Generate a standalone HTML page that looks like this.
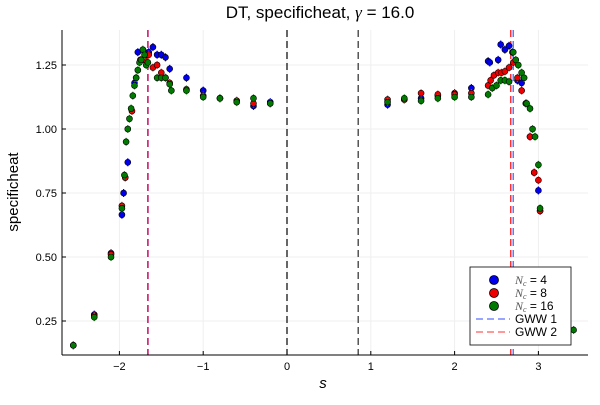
<!DOCTYPE html>
<html><head><meta charset="utf-8"><style>
body{margin:0;background:#fff;font-family:"Liberation Sans","DejaVu Sans",sans-serif}
svg text{font-family:"Liberation Sans","DejaVu Sans",sans-serif}
</style></head><body>
<svg id="chart" width="600" height="400" viewBox="0 0 600 400">
<rect width="600" height="400" fill="#fff"/>
<g id="grid"></g><g id="vlines"></g><g id="marks"></g><g id="axes"></g>
<text x="320" y="18" font-size="17" text-anchor="middle">DT, specificheat, <tspan font-family="Liberation Serif" font-style="italic">γ</tspan> = 16.0</text>
<text x="18" y="192" font-size="15" text-anchor="middle" transform="rotate(-90 18 192)">specificheat</text>
<text x="323" y="388" font-size="15" font-style="italic" font-family="Liberation Serif" text-anchor="middle">s</text>
<g id="legend"></g>
</svg>
<script>
const xTicks=[-2,-1,0,1,2,3];
const xTickLabels=["−2","−1","0","1","2","3"];
const yTicks=[0.25,0.5,0.75,1.0,1.25];
const yTickLabels=["0.25","0.50","0.75","1.00","1.25"];
const s4=[-2.55,-2.3,-2.1,-1.97,-1.95,-1.9,-1.82,-1.78,-1.7,-1.65,-1.6,-1.55,-1.5,-1.45,-1.4,-1.2,-1.0,-0.8,-0.6,-0.4,-0.2,1.2,1.4,1.6,1.8,2.0,2.2,2.4,2.42,2.52,2.55,2.6,2.65,2.69,2.75,2.8,2.85,2.9,2.95,3.0,3.02];
const c4=[0.155,0.275,0.515,0.665,0.75,0.87,1.18,1.3,1.3,1.30,1.32,1.29,1.29,1.28,1.235,1.2,1.15,1.12,1.11,1.09,1.105,1.095,1.115,1.12,1.13,1.14,1.16,1.265,1.26,1.27,1.33,1.31,1.325,1.30,1.19,1.18,1.10,0.97,0.83,0.76,0.68];
const s8=[-2.55,-2.3,-2.1,-1.97,-1.93,-1.85,-1.8,-1.75,-1.7,-1.65,-1.6,-1.55,-1.5,-1.45,-1.4,-1.2,-1.0,-0.8,-0.6,-0.4,-0.2,1.2,1.4,1.6,1.8,2.0,2.2,2.4,2.43,2.47,2.52,2.56,2.6,2.65,2.7,2.75,2.8,2.85,2.9,2.95,3.0,3.02];
const c8=[0.155,0.27,0.51,0.70,0.81,1.07,1.2,1.27,1.27,1.29,1.24,1.25,1.22,1.2,1.18,1.155,1.13,1.12,1.11,1.10,1.10,1.115,1.115,1.14,1.135,1.135,1.14,1.17,1.19,1.21,1.22,1.22,1.225,1.24,1.26,1.20,1.15,1.10,0.97,0.83,0.80,0.68];
const s16=[-2.55,-2.3,-2.1,-1.97,-1.94,-1.92,-1.9,-1.88,-1.86,-1.84,-1.82,-1.8,-1.78,-1.76,-1.74,-1.72,-1.7,-1.68,-1.66,-1.55,-1.5,-1.45,-1.4,-1.38,-1.2,-1.0,-0.8,-0.6,-0.4,-0.2,1.2,1.4,1.6,1.8,2.0,2.2,2.4,2.45,2.5,2.55,2.6,2.65,2.7,2.73,2.76,2.8,2.83,2.86,2.9,2.93,2.96,3.0,3.02,3.42];
const c16=[0.155,0.265,0.50,0.69,0.82,0.95,1.0,1.04,1.08,1.13,1.17,1.2,1.23,1.26,1.27,1.31,1.29,1.25,1.26,1.2,1.2,1.2,1.175,1.15,1.15,1.125,1.12,1.105,1.12,1.10,1.105,1.12,1.11,1.12,1.125,1.125,1.135,1.16,1.17,1.19,1.19,1.185,1.3,1.27,1.25,1.22,1.20,1.10,1.08,1.0,0.97,0.86,0.69,0.215];
const X=v=>287+83.8*v, Y=v=>129-256*(v-1);
const NS="http://www.w3.org/2000/svg";
function mk(t,a,p){const e=document.createElementNS(NS,t);for(const k in a)e.setAttribute(k,a[k]);p.appendChild(e);return e;}
const grid=document.getElementById('grid'),axes=document.getElementById('axes');
xTicks.forEach((v,i)=>{const l=mk('line',{x1:X(v),x2:X(v),y1:30,y2:355,stroke:'#efefef','stroke-width':1},grid);

const t=mk('text',{x:X(v),y:370,'font-size':11,'text-anchor':'middle'},axes);t.textContent=xTickLabels[i];

mk('line',{x1:X(v),x2:X(v),y1:355,y2:351,stroke:'#000'},axes);});
yTicks.forEach((v,i)=>{const l=mk('line',{x1:62,x2:588,y1:Y(v),y2:Y(v),stroke:'#efefef','stroke-width':1},grid);

const t=mk('text',{x:57,y:Y(v)+4,'font-size':11,'text-anchor':'end'},axes);t.textContent=yTickLabels[i];

mk('line',{x1:62,x2:66,y1:Y(v),y2:Y(v),stroke:'#000'},axes);});
mk('line',{x1:62,x2:62,y1:30,y2:355,stroke:'#000'},axes);
mk('line',{x1:62,x2:588,y1:355,y2:355,stroke:'#000'},axes);
const vl=document.getElementById('vlines');
const vLinePos=[0,0.85,-1.66,-1.66,2.70,2.67];
const vLineCol=['#000','#555','#4466ff','#e02060','#6677ff','#ff3030'];
const vLineW=[1.2,1.5,1.5,1.5,1.5,1.5];
vLinePos.forEach((v,i)=>{const l=mk('line',{x1:X(v),x2:X(v),y1:30,y2:355,stroke:vLineCol[i],'stroke-width':vLineW[i],'stroke-dasharray':'7 4'},vl);
});
const marks=document.getElementById('marks');
function series(xs,ys,col,ecol,name){const g=mk('g',{},marks);
xs.forEach((v,i)=>{mk('line',{x1:X(v),x2:X(v),y1:Y(ys[i])-4,y2:Y(ys[i])+4,stroke:ecol,'stroke-width':1.2},g);
const c=mk('circle',{cx:X(v),cy:Y(ys[i]),r:3,fill:col,stroke:'#000','stroke-width':0.6},g);
});}
series(s4,c4,'#0000ee','#0000ff','series-n4');
series(s8,c8,'#ee0000','#ff4040','series-n8');
series(s16,c16,'#007a00','#20a020','series-n16');
const lg=document.getElementById('legend');
mk('rect',{x:470,y:267,width:101,height:78,fill:'#fff',stroke:'#000','stroke-width':0.8},lg);
const legCols=['#0000ee','#ee0000','#007a00'];
[4,8,16].forEach((n,i)=>{const y=280+i*13;mk('circle',{cx:494,cy:y,r:4.5,fill:legCols[i],stroke:'#000','stroke-width':0.8},lg);
const t=mk('text',{x:515,y:y+4,'font-size':12},lg);
t.innerHTML='<tspan font-family="Liberation Serif" font-style="italic" fill="#555">N</tspan><tspan font-size="8" font-family="Liberation Serif" font-style="italic" fill="#555" dy="2">c</tspan><tspan dy="-2"> = '+n+'</tspan>';
});
[['GWW 1','#7788ff'],['GWW 2','#ff7777']].forEach((e,i)=>{const y=319+i*13;
mk('line',{x1:476,x2:510,y1:y,y2:y,stroke:e[1],'stroke-width':1.5,'stroke-dasharray':'7 4'},lg);
const t=mk('text',{x:515,y:y+4,'font-size':12},lg);t.textContent=e[0];
});
</script>
</body></html>
